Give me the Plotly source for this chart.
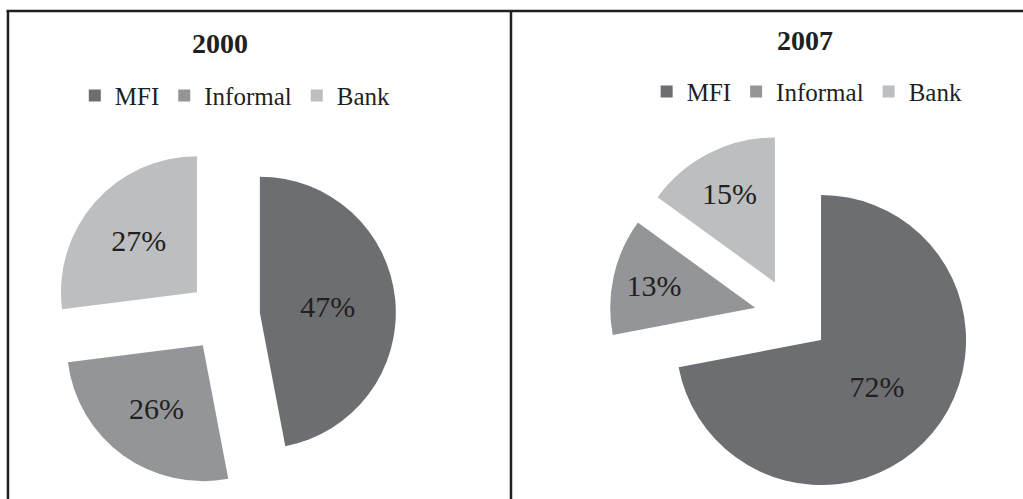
import plotly.graph_objects as go

labels = ["MFI", "Informal", "Bank"]
values_2000 = [47, 26, 27]
values_2007 = [72, 13, 15]
years = ["2000", "2007"]
colors = ["#6d6e71", "#939598", "#bcbec0"]

FONT = "Liberation Serif"
INK = "#231f20"

fig = go.Figure()

fig.add_trace(go.Pie(
    labels=labels, values=values_2000, sort=False, direction="clockwise", rotation=0,
    pull=[0.265, 0.265, 0.265],
    marker=dict(colors=colors, line=dict(width=0)),
    textinfo="percent", textposition="inside", insidetextorientation="horizontal",
    textfont=dict(family=FONT, size=30, color=INK),
    domain=dict(x=[0.0508, 0.3871], y=[0.022, 0.7114]),
    legend="legend", legendgroup="y2000", hoverinfo="label+percent",
))

fig.add_trace(go.Pie(
    labels=labels, values=values_2007, sort=False, direction="clockwise", rotation=0,
    pull=[0.26, 0.26, 0.26],
    marker=dict(colors=colors, line=dict(width=0)),
    textinfo="percent", textposition="inside", insidetextorientation="horizontal",
    textfont=dict(family=FONT, size=30, color=INK),
    domain=dict(x=[0.5956, 0.9528], y=[0.0006, 0.7329]),
    legend="legend2", legendgroup="y2007", hoverinfo="label+percent",
))

legend_common = dict(
    orientation="h", xanchor="center", yanchor="middle",
    font=dict(family=FONT, size=25, color=INK),
    bgcolor="rgba(0,0,0,0)", itemwidth=30, tracegroupgap=0, traceorder="normal",
)

fig.update_layout(
    width=1023, height=499,
    margin=dict(l=0, r=0, t=0, b=0),
    paper_bgcolor="white", plot_bgcolor="white",
    font=dict(family=FONT, color=INK),
    uniformtext=dict(minsize=30, mode="show"),
    legend=dict(x=0.23, y=0.808, **legend_common),
    legend2=dict(x=0.789, y=0.816, **legend_common),
    annotations=[
        dict(text="<b>%s</b>" % years[0], x=0.215, y=0.912, xref="paper", yref="paper",
             showarrow=False, xanchor="center", yanchor="middle",
             font=dict(family=FONT, size=28, color=INK)),
        dict(text="<b>%s</b>" % years[1], x=0.787, y=0.918, xref="paper", yref="paper",
             showarrow=False, xanchor="center", yanchor="middle",
             font=dict(family=FONT, size=28, color=INK)),
    ],
    shapes=[
        dict(type="line", xref="paper", yref="paper", x0=0.0064, x1=1.0, y0=0.978, y1=0.978,
             line=dict(color=INK, width=2.5)),
        dict(type="line", xref="paper", yref="paper", x0=0.0078, x1=0.0078, y0=0.978, y1=0.0,
             line=dict(color=INK, width=2.5)),
        dict(type="line", xref="paper", yref="paper", x0=0.4995, x1=0.4995, y0=0.978, y1=0.0,
             line=dict(color=INK, width=2.5)),
    ],
)

fig.write_html(
    "out.html",
    config={"displayModeBar": False},
    post_script="document.body.style.margin='0';document.body.style.overflow='hidden';",
)
